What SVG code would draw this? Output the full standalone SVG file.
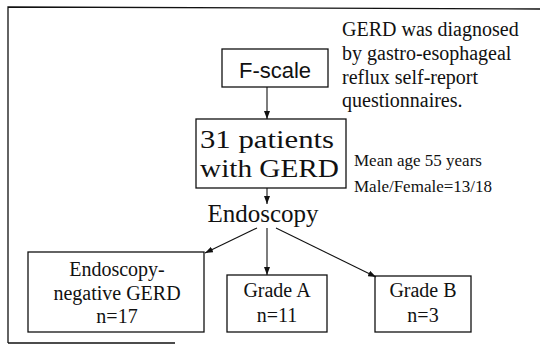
<svg xmlns="http://www.w3.org/2000/svg" width="540" height="345" viewBox="0 0 540 345">
<defs>
<marker id="ah" viewBox="0 0 8 6" refX="8" refY="3" markerWidth="8" markerHeight="6" markerUnits="userSpaceOnUse" orient="auto">
<path d="M0,0 L8,3 L0,6 Z" fill="#111"/>
</marker>
<style>
.box{fill:#fff;stroke:#111;stroke-width:1.3}
.frame{fill:none;stroke:#111;stroke-width:1.3}
.conn{fill:none;stroke:#111;stroke-width:1.1;marker-end:url(#ah)}
.t{font-family:"Liberation Serif","Times New Roman",serif;fill:#111}
.s{font-family:"Liberation Sans",Arial,sans-serif;fill:#111}
</style>
</defs>
<rect width="540" height="345" fill="#fff"/>
<g id="frame">
<path class="frame" d="M8,343 L8,7 L540,9"/>
<path class="frame" d="M8,343 L175,343"/>
</g>
<g id="note">
<text class="t" font-size="20" x="342" y="36">GERD was diagnosed</text>
<text class="t" font-size="20" x="342" y="60">by gastro-esophageal</text>
<text class="t" font-size="20" x="342" y="84">reflux self-report</text>
<text class="t" font-size="20" x="342" y="107">questionnaires.</text>
</g>
<g id="fscale">
<rect class="box" x="222" y="49" width="106" height="38"/>
<text class="s" font-size="22" x="275" y="78" text-anchor="middle">F-scale</text>
</g>
<g id="patients">
<rect class="box" x="196" y="119" width="150" height="69"/>
<text class="t" font-size="25" x="200" y="148" textLength="134" lengthAdjust="spacingAndGlyphs">31 patients</text>
<text class="t" font-size="25" x="200" y="177" textLength="139" lengthAdjust="spacingAndGlyphs">with GERD</text>
</g>
<g id="demographics">
<text class="t" font-size="17" x="354" y="166">Mean age 55 years</text>
<text class="t" font-size="17" x="354" y="192">Male/Female=13/18</text>
</g>
<g id="endoscopy">
<text class="t" font-size="25" x="263" y="222" text-anchor="middle">Endoscopy</text>
</g>
<g id="negative">
<rect class="box" x="28" y="252" width="176" height="80"/>
<text class="t" font-size="20" x="117" y="276" text-anchor="middle">Endoscopy-</text>
<text class="t" font-size="20" x="117" y="300" text-anchor="middle">negative GERD</text>
<text class="t" font-size="20" x="117" y="323" text-anchor="middle">n=17</text>
</g>
<g id="gradeA">
<rect class="box" x="227" y="275" width="100" height="57"/>
<text class="t" font-size="20" x="277" y="297" text-anchor="middle">Grade A</text>
<text class="t" font-size="20" x="277" y="322" text-anchor="middle">n=11</text>
</g>
<g id="gradeB">
<rect class="box" x="375" y="276" width="96" height="56"/>
<text class="t" font-size="20" x="423" y="297" text-anchor="middle">Grade B</text>
<text class="t" font-size="20" x="423" y="322" text-anchor="middle">n=3</text>
</g>
<g id="connectors">
<line class="conn" x1="267" y1="87" x2="267" y2="119"/>
<line class="conn" x1="267" y1="188" x2="267" y2="204"/>
<line class="conn" x1="267" y1="228" x2="267" y2="275"/>
<line class="conn" x1="257" y1="228" x2="205" y2="253"/>
<line class="conn" x1="276" y1="228" x2="376" y2="277"/>
</g>
</svg>
